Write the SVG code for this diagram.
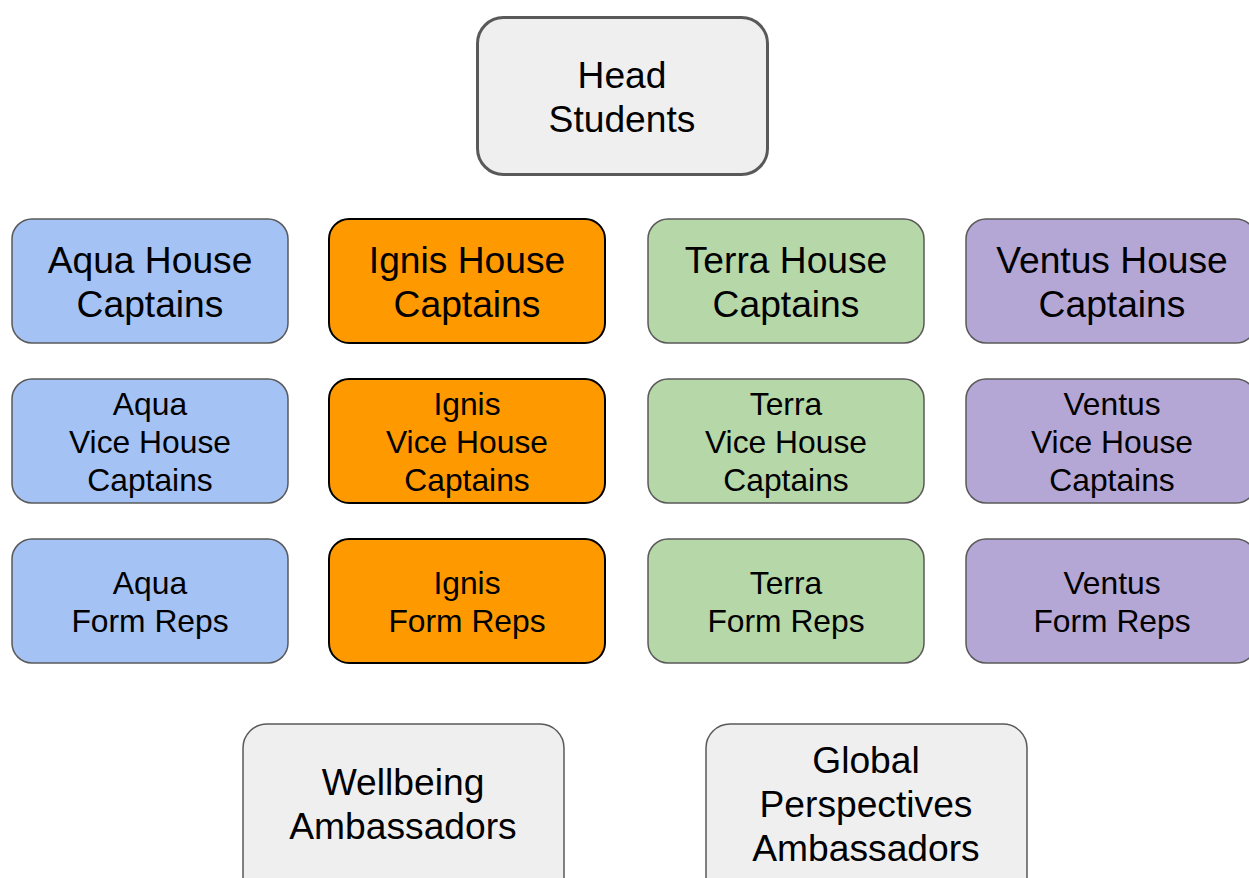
<svg xmlns="http://www.w3.org/2000/svg" width="1249" height="878" viewBox="0 0 1249 878">
<style>
.t{font-family:"Liberation Sans",Arial,sans-serif;fill:#000;text-anchor:middle}
.big{font-size:37.2px}
.sm{font-size:31.8px}
.box{stroke:#595959;stroke-width:1.5}
.aqua{fill:#a4c2f4}
.ignis{fill:#ff9900;stroke:#000;stroke-width:2}
.terra{fill:#b6d7a8}
.ventus{fill:#b4a7d6}
.gray{fill:#efefef}
</style>
<rect width="1249" height="878" fill="#fff"/>
<g id="connectors"></g>
<g id="head">
<rect x="477.5" y="17.5" width="290" height="157" rx="26" fill="#efefef" stroke="#595959" stroke-width="3"/>
<text class="t big" x="622" y="88">Head</text>
<text class="t big" x="622" y="132">Students</text>
</g>
<g id="aqua-captains">
<rect class="box aqua" x="12" y="219" width="276" height="124" rx="20"/>
<text class="t big" x="150" y="273">Aqua House</text>
<text class="t big" x="150" y="317">Captains</text>
</g>
<g id="ignis-captains">
<rect class="box ignis" x="329" y="219" width="276" height="124" rx="20"/>
<text class="t big" x="467" y="273">Ignis House</text>
<text class="t big" x="467" y="317">Captains</text>
</g>
<g id="terra-captains">
<rect class="box terra" x="648" y="219" width="276" height="124" rx="20"/>
<text class="t big" x="786" y="273">Terra House</text>
<text class="t big" x="786" y="317">Captains</text>
</g>
<g id="ventus-captains">
<rect class="box ventus" x="966" y="219" width="290" height="124" rx="20"/>
<text class="t big" x="1112" y="273">Ventus House</text>
<text class="t big" x="1112" y="317">Captains</text>
</g>
<g id="aqua-vice">
<rect class="box aqua" x="12" y="379" width="276" height="124" rx="20"/>
<text class="t sm" x="150" y="415">Aqua</text>
<text class="t sm" x="150" y="453">Vice House</text>
<text class="t sm" x="150" y="491">Captains</text>
</g>
<g id="ignis-vice">
<rect class="box ignis" x="329" y="379" width="276" height="124" rx="20"/>
<text class="t sm" x="467" y="415">Ignis</text>
<text class="t sm" x="467" y="453">Vice House</text>
<text class="t sm" x="467" y="491">Captains</text>
</g>
<g id="terra-vice">
<rect class="box terra" x="648" y="379" width="276" height="124" rx="20"/>
<text class="t sm" x="786" y="415">Terra</text>
<text class="t sm" x="786" y="453">Vice House</text>
<text class="t sm" x="786" y="491">Captains</text>
</g>
<g id="ventus-vice">
<rect class="box ventus" x="966" y="379" width="290" height="124" rx="20"/>
<text class="t sm" x="1112" y="415">Ventus</text>
<text class="t sm" x="1112" y="453">Vice House</text>
<text class="t sm" x="1112" y="491">Captains</text>
</g>
<g id="aqua-form">
<rect class="box aqua" x="12" y="539" width="276" height="124" rx="20"/>
<text class="t sm" x="150" y="594">Aqua</text>
<text class="t sm" x="150" y="632">Form Reps</text>
</g>
<g id="ignis-form">
<rect class="box ignis" x="329" y="539" width="276" height="124" rx="20"/>
<text class="t sm" x="467" y="594">Ignis</text>
<text class="t sm" x="467" y="632">Form Reps</text>
</g>
<g id="terra-form">
<rect class="box terra" x="648" y="539" width="276" height="124" rx="20"/>
<text class="t sm" x="786" y="594">Terra</text>
<text class="t sm" x="786" y="632">Form Reps</text>
</g>
<g id="ventus-form">
<rect class="box ventus" x="966" y="539" width="290" height="124" rx="20"/>
<text class="t sm" x="1112" y="594">Ventus</text>
<text class="t sm" x="1112" y="632">Form Reps</text>
</g>
<g id="wellbeing">
<rect class="box gray" x="243" y="724" width="321" height="180" rx="24"/>
<text class="t big" x="403" y="795">Wellbeing</text>
<text class="t big" x="403" y="839">Ambassadors</text>
</g>
<g id="global">
<rect class="box gray" x="706" y="724" width="321" height="180" rx="24"/>
<text class="t big" x="866" y="773">Global</text>
<text class="t big" x="866" y="817">Perspectives</text>
<text class="t big" x="866" y="861">Ambassadors</text>
</g>
</svg>
